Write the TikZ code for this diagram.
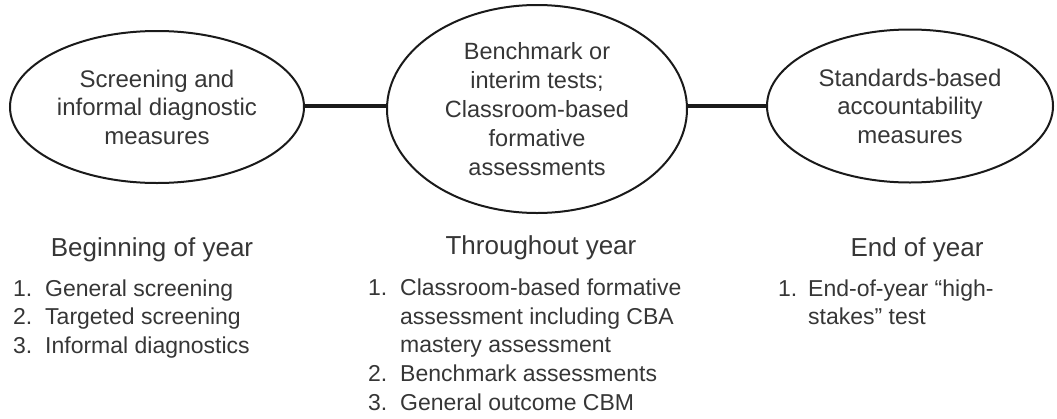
\documentclass[tikz,border=0pt]{standalone}
\usepackage{fontspec}
\setmainfont{Liberation Sans}
\usetikzlibrary{shapes.geometric}
\definecolor{txt}{HTML}{363636}
\definecolor{ln}{HTML}{1A1A1A}
\newcommand{\num}[1]{\makebox[32pt][l]{#1}}
\begin{document}
\begin{tikzpicture}[x=1pt,y=-1pt,
  bubble/.style={ellipse, draw=ln, line width=2pt, inner sep=0pt, align=center, text=txt, font=\fontsize{24}{28.5}\selectfont},
  link/.style={draw=ln, line width=4pt},
  head/.style={anchor=base, text=txt, inner sep=0pt, font=\fontsize{26}{30}\selectfont},
  items/.style={anchor=base west, align=left, text=txt, inner sep=0pt, font=\fontsize{23}{28.6}\selectfont}]
\useasboundingbox (0,0) rectangle (1057,418);
\node[bubble, minimum width=294pt, minimum height=152pt] (scr) at (157,107) {Screening and\\informal diagnostic\\measures};
\node[bubble, minimum width=300pt, minimum height=208pt, font=\fontsize{23.5}{29}\selectfont] (bench) at (537,109) {Benchmark or\\interim tests;\\Classroom-based\\formative\\assessments};
\node[bubble, minimum width=286pt, minimum height=153pt] (std) at (910,106) {Standards-based\\accountability\\measures};
\coordinate (l1) at (0,106);
\draw[link] (scr.east |- l1) -- (bench.west |- l1);
\draw[link] (bench.east |- l1) -- (std.west |- l1);
\node[head] (h1) at (152,256) {Beginning of year};
\node[head] (h2) at (541,254) {Throughout year};
\node[head] (h3) at (917,256) {End of year};
\node[items] (i1) at (13,353.5) {\num{1.}General screening\\\num{2.}Targeted screening\\\num{3.}Informal diagnostics};
\node[items] (i2) at (368,410) {\num{1.}Classroom-based formative\\\num{}assessment including CBA\\\num{}mastery assessment\\\num{2.}Benchmark assessments\\\num{3.}General outcome CBM};
\node[items] (i3) at (778,324.6) {\makebox[30pt][l]{1.}End-of-year “high-\\\makebox[30pt][l]{}stakes” test};
\end{tikzpicture}
\end{document}
